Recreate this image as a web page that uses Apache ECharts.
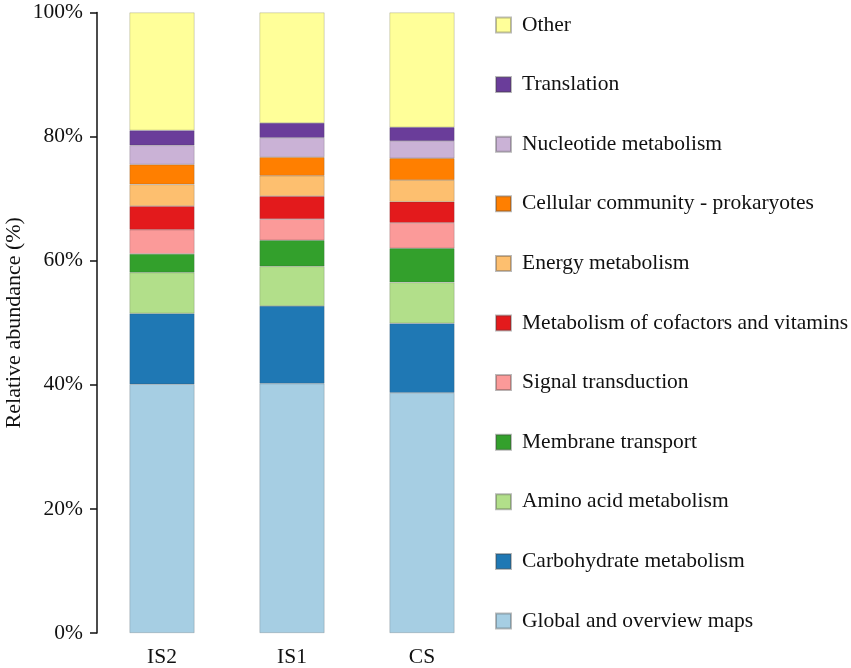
<!DOCTYPE html>
<html>
<head>
<meta charset="utf-8">
<script src="https://cdn.jsdelivr.net/npm/echarts@6/dist/echarts.min.js"></script>
<style>
  html, body { margin: 0; padding: 0; background: #fff; }
  #chart { width: 851px; height: 668px; }
</style>
</head>
<body>
<div id="chart"></div>
<script>
// samples on the x axis
const samples = ['IS2', 'IS1', 'CS'];

// pathway categories, bottom of the stack first
const pathways = [
    'Global and overview maps',
    'Carbohydrate metabolism',
    'Amino acid metabolism',
    'Membrane transport',
    'Signal transduction',
    'Metabolism of cofactors and vitamins',
    'Energy metabolism',
    'Cellular community - prokaryotes',
    'Nucleotide metabolism',
    'Translation',
    'Other'
];

// relative abundance (%) per sample: IS2, IS1, CS
const globalMaps   = [40.1, 40.2, 38.7];
const carbohydrate = [11.4, 12.5, 11.2];
const aminoAcid    = [6.6, 6.4, 6.6];
const membrane     = [3.0, 4.2, 5.5];
const signal       = [3.9, 3.4, 4.1];
const cofactors    = [3.8, 3.7, 3.4];
const energy       = [3.5, 3.3, 3.5];
const cellular     = [3.2, 3.0, 3.5];
const nucleotide   = [3.1, 3.1, 2.8];
const translation  = [2.4, 2.4, 2.2];
const other        = [19.0, 17.8, 18.5];

const yTicks = [0, 20, 40, 60, 80, 100];

const colors = ['#A6CEE3', '#1F78B4', '#B2DF8A', '#33A02C', '#FB9A99', '#E31A1C',
                '#FDBF6F', '#FF7F00', '#CAB2D6', '#6A3D9A', '#FFFF99'];

const values = [globalMaps, carbohydrate, aminoAcid, membrane, signal, cofactors,
                energy, cellular, nucleotide, translation, other];

const font = '"Liberation Serif", "Times New Roman", serif';

const chart = echarts.init(document.getElementById('chart'));

const series = pathways.map((name, i) => ({
    name: name,
    type: 'bar',
    stack: 'total',
    barWidth: '50%',
    data: values[i],
    itemStyle: {
        color: colors[i],
        borderColor: 'rgba(60,60,60,0.35)',
        borderWidth: 0.6
    },
    emphasis: { disabled: true }
}));

chart.setOption({
    animation: false,
    textStyle: { fontFamily: font },
    grid: { left: 97, top: 12.5, bottom: 35, width: 390 },
    legend: {
        data: pathways.slice().reverse(),
        orient: 'vertical',
        left: 490,
        top: 9,
        itemWidth: 15,
        itemHeight: 15,
        itemGap: 37.6,
        icon: 'rect',
        selectedMode: false,
        textStyle: { fontFamily: font, fontSize: 21.5, lineHeight: 20, color: '#111', padding: [0, 0, 0, 6] }
    },
    xAxis: {
        type: 'category',
        data: samples,
        axisLine: { show: false },
        axisTick: { show: false },
        axisLabel: { fontFamily: font, fontSize: 21.5, color: '#111', margin: 13 }
    },
    yAxis: {
        type: 'value',
        min: yTicks[0],
        max: yTicks[yTicks.length - 1],
        interval: 20,
        name: 'Relative abundance (%)',
        nameLocation: 'middle',
        nameGap: 72,
        nameTextStyle: { fontFamily: font, fontSize: 22, color: '#111' },
        axisLine: { show: true, lineStyle: { color: '#111', width: 1.5 } },
        axisTick: { show: true, length: 7, lineStyle: { color: '#111', width: 1.5 } },
        axisLabel: { fontFamily: font, fontSize: 21.5, color: '#111', margin: 14, formatter: '{value}%' },
        splitLine: { show: false }
    },
    series: series
});
</script>
</body>
</html>
